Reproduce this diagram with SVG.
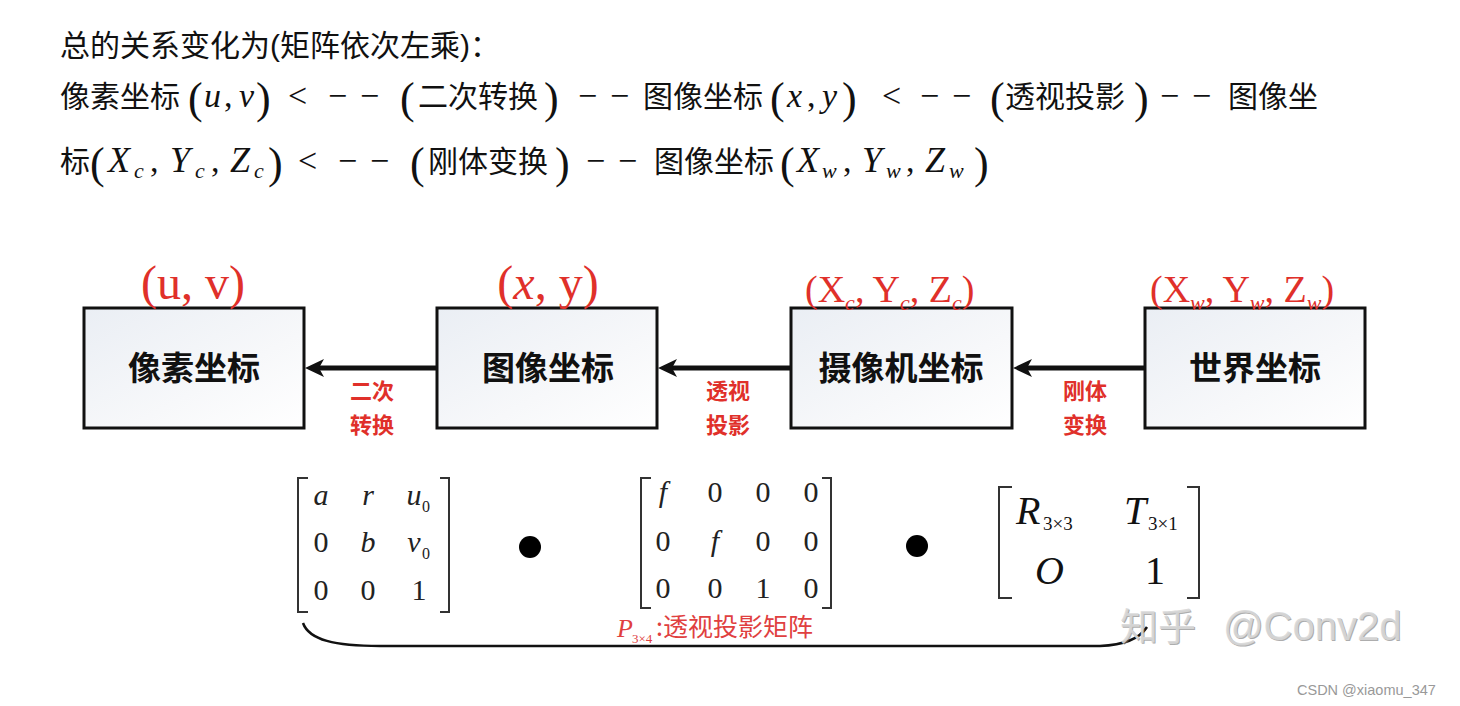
<svg xmlns="http://www.w3.org/2000/svg" width="1460" height="706" viewBox="0 0 1460 706">
<defs>
<linearGradient id="boxfill" x1="0" y1="0" x2="1" y2="1">
<stop offset="0" stop-color="#eaeef4"/>
<stop offset="0.6" stop-color="#f7f8fa"/>
<stop offset="1" stop-color="#ffffff"/>
</linearGradient>
</defs>
<style>
.cjk{font-family:"Liberation Sans","Noto Sans CJK SC",sans-serif;fill:#111;}
.h{font-size:30px;}
.m{font-family:"Liberation Serif","DejaVu Serif",serif;fill:#111;}
.mi{font-family:"Liberation Serif","DejaVu Serif",serif;font-style:italic;fill:#111;}
.box{fill:url(#boxfill);stroke:#111;stroke-width:3;}
.bt{font-family:"Noto Sans CJK SC",sans-serif;font-weight:bold;font-size:33px;fill:#111;text-anchor:middle;}
.rl{font-family:"Noto Sans CJK SC",sans-serif;font-weight:bold;font-size:22px;fill:#e0302a;text-anchor:middle;}
.rc{font-family:"Liberation Serif",serif;fill:#e0302a;}
.conn{stroke:#111;stroke-width:5;fill:none;}
.head{fill:#111;}
.br{fill:none;stroke:#333;stroke-width:2;}
.me{font-family:"Liberation Serif",serif;font-size:30px;fill:#222;text-anchor:middle;}
.sub{font-family:"Liberation Serif",serif;font-size:16px;fill:#222;}
</style>
<rect width="1460" height="706" fill="#ffffff"/>

<g id="header">
<text class="cjk h" x="60" y="56">总的关系变化为(矩阵依次左乘)：</text>
<g id="line2">
<text class="cjk h" x="60" y="107">像素坐标</text>
<text class="m" font-size="44" x="188" y="113">(</text>
<text class="mi" font-size="34" x="204" y="107">u</text>
<text class="m" font-size="34" x="224" y="107">,</text>
<text class="mi" font-size="34" x="239" y="107">v</text>
<text class="m" font-size="44" x="256" y="113">)</text>
<text class="m" font-size="34" x="288" y="107">&lt;</text>
<text class="m" font-size="34" x="328" y="107">−</text>
<text class="m" font-size="34" x="360" y="107">−</text>
<text class="m" font-size="44" x="400" y="113">(</text>
<text class="cjk h" x="418" y="107">二次转换</text>
<text class="m" font-size="44" x="544" y="113">)</text>
<text class="m" font-size="34" x="578" y="107">−</text>
<text class="m" font-size="34" x="610" y="107">−</text>
<text class="cjk h" x="643" y="107">图像坐标</text>
<text class="m" font-size="44" x="770" y="113">(</text>
<text class="mi" font-size="34" x="787" y="107">x</text>
<text class="m" font-size="34" x="807" y="107">,</text>
<text class="mi" font-size="34" x="822" y="107">y</text>
<text class="m" font-size="44" x="842" y="113">)</text>
<text class="m" font-size="34" x="882" y="107">&lt;</text>
<text class="m" font-size="34" x="920" y="107">−</text>
<text class="m" font-size="34" x="952" y="107">−</text>
<text class="m" font-size="44" x="990" y="113">(</text>
<text class="cjk h" x="1005" y="107">透视投影</text>
<text class="m" font-size="44" x="1134" y="113">)</text>
<text class="m" font-size="34" x="1160" y="107">−</text>
<text class="m" font-size="34" x="1192" y="107">−</text>
<text class="cjk h" x="1228" y="107">图像坐</text>
</g>
<g id="line3">
<text class="cjk h" x="60" y="172">标</text>
<text class="m" font-size="44" x="90" y="178">(</text>
<text class="mi" font-size="36" x="108" y="172">X</text>
<text class="mi" font-size="22" x="134" y="178">c</text>
<text class="m" font-size="34" x="150" y="172">,</text>
<text class="mi" font-size="36" x="170" y="172">Y</text>
<text class="mi" font-size="22" x="195" y="178">c</text>
<text class="m" font-size="34" x="211" y="172">,</text>
<text class="mi" font-size="36" x="230" y="172">Z</text>
<text class="mi" font-size="22" x="254" y="178">c</text>
<text class="m" font-size="44" x="268" y="178">)</text>
<text class="m" font-size="34" x="298" y="172">&lt;</text>
<text class="m" font-size="34" x="338" y="172">−</text>
<text class="m" font-size="34" x="370" y="172">−</text>
<text class="m" font-size="44" x="410" y="178">(</text>
<text class="cjk h" x="428" y="172">刚体变换</text>
<text class="m" font-size="44" x="555" y="178">)</text>
<text class="m" font-size="34" x="586" y="172">−</text>
<text class="m" font-size="34" x="618" y="172">−</text>
<text class="cjk h" x="654" y="172">图像坐标</text>
<text class="m" font-size="44" x="780" y="178">(</text>
<text class="mi" font-size="36" x="797" y="172">X</text>
<text class="mi" font-size="22" x="822" y="178">w</text>
<text class="m" font-size="34" x="843" y="172">,</text>
<text class="mi" font-size="36" x="862" y="172">Y</text>
<text class="mi" font-size="22" x="886" y="178">w</text>
<text class="m" font-size="34" x="906" y="172">,</text>
<text class="mi" font-size="36" x="925" y="172">Z</text>
<text class="mi" font-size="22" x="949" y="178">w</text>
<text class="m" font-size="44" x="974" y="178">)</text>
</g>
</g>

<g id="connectors">
<line class="conn" x1="437" y1="368" x2="318" y2="368"/>
<path class="head" d="M305,368 L324,359 L319,368 L324,377 Z"/>
<line class="conn" x1="791" y1="368" x2="671" y2="368"/>
<path class="head" d="M658,368 L677,359 L672,368 L677,377 Z"/>
<line class="conn" x1="1145" y1="368" x2="1026" y2="368"/>
<path class="head" d="M1013,368 L1032,359 L1027,368 L1032,377 Z"/>
<text class="rl" x="372" y="399">二次</text>
<text class="rl" x="372" y="433">转换</text>
<text class="rl" x="728" y="399">透视</text>
<text class="rl" x="728" y="433">投影</text>
<text class="rl" x="1085" y="399">刚体</text>
<text class="rl" x="1085" y="433">变换</text>
</g>

<g id="node-pixel">
<rect class="box" x="84" y="308" width="220" height="120"/>
<text class="bt" x="194" y="380">像素坐标</text>
<text class="rc" font-size="48" x="193" y="299" text-anchor="middle">(u, v)</text>
</g>
<g id="node-image">
<rect class="box" x="437" y="308" width="220" height="120"/>
<text class="bt" x="548" y="380">图像坐标</text>
<text class="rc" font-size="48" x="548" y="299" text-anchor="middle">(<tspan font-style="italic">x</tspan>, y)</text>
</g>
<g id="node-camera">
<rect class="box" x="791" y="308" width="221" height="120"/>
<text class="bt" x="901" y="380">摄像机坐标</text>
<text class="rc" font-size="38" x="805" y="302">(X<tspan font-size="22" font-style="italic" dy="8">c</tspan><tspan dy="-8">, Y</tspan><tspan font-size="22" font-style="italic" dy="8">c</tspan><tspan dy="-8">, Z</tspan><tspan font-size="22" font-style="italic" dy="8">c</tspan><tspan dy="-8">)</tspan></text>
</g>
<g id="node-world">
<rect class="box" x="1145" y="308" width="220" height="120"/>
<text class="bt" x="1255" y="380">世界坐标</text>
<text class="rc" font-size="38" x="1150" y="302">(X<tspan font-size="22" font-style="italic" dy="8">w</tspan><tspan dy="-8">, Y</tspan><tspan font-size="22" font-style="italic" dy="8">w</tspan><tspan dy="-8">, Z</tspan><tspan font-size="22" font-style="italic" dy="8">w</tspan><tspan dy="-8">)</tspan></text>
</g>

<g id="matrix-intrinsic">
<path class="br" d="M308,478 H298 V612 H308"/>
<path class="br" d="M440,478 H449 V612 H440"/>
<text class="me" x="321" y="505" font-style="italic">a</text>
<text class="me" x="368" y="505" font-style="italic">r</text>
<text class="me" x="414" y="505" font-style="italic">u</text>
<text class="sub" x="422" y="512">0</text>
<text class="me" x="321" y="552">0</text>
<text class="me" x="368" y="552" font-style="italic">b</text>
<text class="me" x="414" y="552" font-style="italic">v</text>
<text class="sub" x="422" y="559">0</text>
<text class="me" x="321" y="600">0</text>
<text class="me" x="368" y="600">0</text>
<text class="me" x="419" y="600">1</text>
</g>
<circle cx="530" cy="547" r="11" fill="#000"/>
<g id="matrix-projection">
<path class="br" d="M651,478 H641 V608 H651"/>
<path class="br" d="M822,478 H831 V608 H822"/>
<text class="me" x="663" y="502" font-style="italic">f</text>
<text class="me" x="715" y="502">0</text>
<text class="me" x="763" y="502">0</text>
<text class="me" x="811" y="502">0</text>
<text class="me" x="663" y="551">0</text>
<text class="me" x="715" y="551" font-style="italic">f</text>
<text class="me" x="763" y="551">0</text>
<text class="me" x="811" y="551">0</text>
<text class="me" x="663" y="598">0</text>
<text class="me" x="715" y="598">0</text>
<text class="me" x="763" y="598">1</text>
<text class="me" x="811" y="598">0</text>
</g>
<circle cx="917" cy="546" r="11" fill="#000"/>
<g id="matrix-extrinsic">
<path class="br" d="M1012,487 H999 V598 H1012" stroke-width="2.5"/>
<path class="br" d="M1187,487 H1199 V598 H1187" stroke-width="2.5"/>
<text class="mi" font-size="40" x="1016" y="524">R</text>
<text class="m" font-size="19" x="1043" y="530">3×3</text>
<text class="mi" font-size="40" x="1124" y="524">T</text>
<text class="m" font-size="19" x="1148" y="530">3×1</text>
<text class="mi" font-size="40" x="1035" y="584">O</text>
<text class="m" font-size="40" x="1145" y="584">1</text>
</g>
<g id="brace">
<path d="M303,623 C309,640 335,646 380,646 L1100,646 C1125,645 1140,638 1147,627" fill="none" stroke="#111" stroke-width="2.5"/>
<text x="617" y="637" font-family="Liberation Serif,serif" font-style="italic" font-size="26" fill="#e04040">P</text>
<text x="632" y="643" font-family="Liberation Serif,serif" font-size="13" fill="#e04040">3×4</text>
<text x="656" y="636" font-family="Noto Sans CJK SC,sans-serif" font-size="25" fill="#e04040">:透视投影矩阵</text>
</g>
<g id="watermark">
<text x="1121" y="641" font-family="Noto Sans CJK SC,sans-serif" font-size="38" fill="#777" opacity="0.6">知乎</text>
<text x="1120" y="640" font-family="Noto Sans CJK SC,sans-serif" font-size="38" fill="#d8d8d8" opacity="0.9">知乎</text>
<text x="1224" y="641" font-family="Liberation Sans,sans-serif" font-size="40" fill="#777" opacity="0.6">@Conv2d</text>
<text x="1223" y="640" font-family="Liberation Sans,sans-serif" font-size="40" fill="#d8d8d8" opacity="0.9">@Conv2d</text>
<text x="1297" y="695" font-family="Liberation Sans,sans-serif" font-size="14.5" fill="#999">CSDN @xiaomu_347</text>
</g>
</svg>
